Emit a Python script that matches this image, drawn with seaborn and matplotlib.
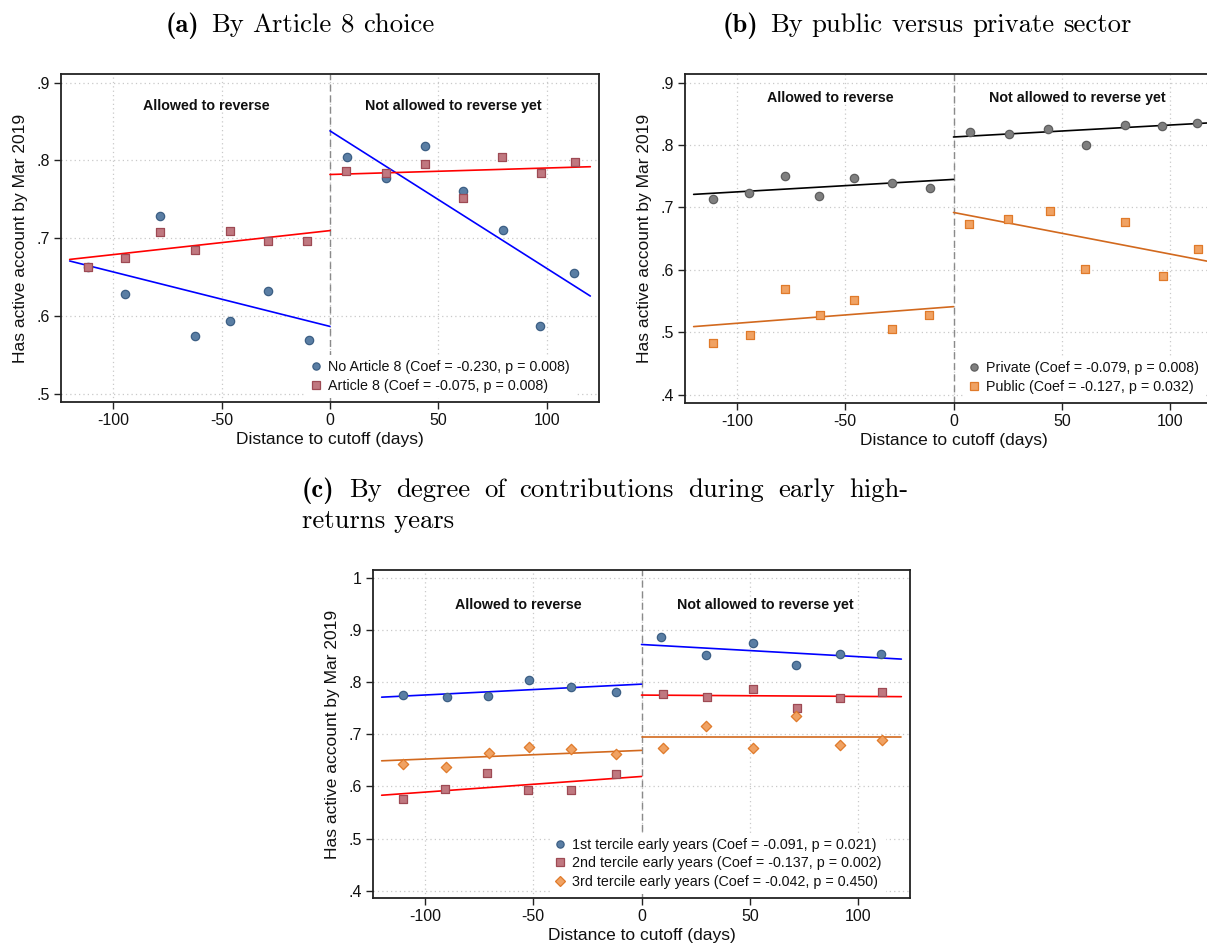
import matplotlib
matplotlib.use("Agg")
import matplotlib.pyplot as plt
from matplotlib.lines import Line2D
import seaborn as sns

# ---------------------------------------------------------------------------
# Data: binned means of "has active account by Mar 2019" by distance to cutoff
# and local linear fits on each side of the cutoff (values at -120/0 and 0/120)
# ---------------------------------------------------------------------------
x_ticks = [-100, -50, 0, 50, 100]
x_tick_labels = ["-100", "-50", "0", "50", "100"]

# (a) By Article 8 choice
a_no_art8_days = [-111.5, -94.5, -78.2, -62.2, -46.0, -28.6, -9.6,
                  8.0, 25.8, 43.9, 61.3, 79.8, 96.6, 112.4]
a_no_art8_vals = [0.663, 0.629, 0.729, 0.575, 0.594, 0.632, 0.569,
                  0.805, 0.778, 0.819, 0.761, 0.711, 0.587, 0.655]
a_no_art8_fit_left = [0.671, 0.587]
a_no_art8_fit_right = [0.838, 0.626]
a_art8_days = [-111.5, -94.3, -78.3, -62.3, -46.0, -28.4, -10.8,
               7.5, 25.6, 44.0, 61.5, 79.4, 97.2, 112.8]
a_art8_vals = [0.663, 0.675, 0.708, 0.685, 0.710, 0.697, 0.697,
               0.787, 0.784, 0.795, 0.752, 0.805, 0.784, 0.798]
a_art8_fit_left = [0.673, 0.710]
a_art8_fit_right = [0.782, 0.792]
a_labels = ["No Article 8 (Coef = -0.230, p = 0.008)",
            "Article 8 (Coef = -0.075, p = 0.008)"]
a_yticks = [0.5, 0.6, 0.7, 0.8, 0.9]
a_ytick_labels = [".5", ".6", ".7", ".8", ".9"]

# (b) By public versus private sector
b_private_days = [-111.1, -94.3, -78.0, -61.9, -46.1, -28.4, -10.7,
                  7.6, 25.6, 43.5, 61.2, 79.0, 96.5, 112.3]
b_private_vals = [0.714, 0.724, 0.750, 0.719, 0.747, 0.740, 0.732,
                  0.821, 0.817, 0.826, 0.800, 0.833, 0.830, 0.835]
b_private_fit_left = [0.721, 0.745]
b_private_fit_right = [0.813, 0.836]
b_public_days = [-111.1, -94.1, -77.8, -61.7, -45.8, -28.2, -11.3,
                 7.3, 25.1, 44.5, 60.5, 79.0, 96.7, 112.8]
b_public_vals = [0.483, 0.496, 0.570, 0.527, 0.551, 0.505, 0.527,
                 0.674, 0.681, 0.695, 0.601, 0.676, 0.590, 0.634]
b_public_fit_left = [0.509, 0.541]
b_public_fit_right = [0.692, 0.612]
b_labels = ["Private (Coef = -0.079, p = 0.008)",
            "Public (Coef = -0.127, p = 0.032)"]
b_yticks = [0.4, 0.5, 0.6, 0.7, 0.8, 0.9]
b_ytick_labels = [".4", ".5", ".6", ".7", ".8", ".9"]

# (c) By degree of contributions during early high-returns years
c_t1_days = [-110.3, -89.6, -70.8, -51.9, -32.4, -12.0,
             9.0, 29.9, 51.5, 71.5, 91.9, 110.6]
c_t1_vals = [0.776, 0.771, 0.774, 0.803, 0.791, 0.781,
             0.886, 0.852, 0.874, 0.833, 0.854, 0.853]
c_t1_fit_left = [0.771, 0.796]
c_t1_fit_right = [0.872, 0.844]
c_t2_days = [-110.1, -90.6, -71.2, -52.2, -32.4, -12.0,
             9.9, 30.3, 51.5, 71.7, 91.7, 111.0]
c_t2_vals = [0.575, 0.595, 0.625, 0.594, 0.594, 0.624,
             0.778, 0.771, 0.786, 0.751, 0.769, 0.780]
c_t2_fit_left = [0.583, 0.619]
c_t2_fit_right = [0.775, 0.772]
c_t3_days = [-110.3, -90.3, -70.6, -52.0, -32.6, -11.7,
             9.7, 29.9, 51.3, 71.3, 91.7, 111.0]
c_t3_vals = [0.642, 0.637, 0.664, 0.676, 0.672, 0.663,
             0.674, 0.716, 0.674, 0.735, 0.679, 0.689]
c_t3_fit_left = [0.649, 0.669]
c_t3_fit_right = [0.695, 0.695]
c_labels = ["1st tercile early years (Coef = -0.091, p = 0.021)",
            "2nd tercile early years (Coef = -0.137, p = 0.002)",
            "3rd tercile early years (Coef = -0.042, p = 0.450)"]
c_yticks = [0.4, 0.5, 0.6, 0.7, 0.8, 0.9, 1.0]
c_ytick_labels = [".4", ".5", ".6", ".7", ".8", ".9", "1"]

fit_left_x = [-120, 0]
fit_right_x = [0, 120]

# ---------------------------------------------------------------------------
# Styling
# ---------------------------------------------------------------------------
sns.set_theme(style="white")
plt.rcParams["font.family"] = ["Liberation Sans", "DejaVu Sans"]
plt.rcParams["axes.unicode_minus"] = False

BLUE_M = dict(face="#5a7ea4", edge="#3c5f84", marker="o", s=36)
RED_M = dict(face="#c07880", edge="#9e4a54", marker="s", s=34)
GREY_M = dict(face="#7f7f7f", edge="#5e5e5e", marker="o", s=36)
ORANGE_M = dict(face="#f0a263", edge="#e07a2a", marker="s", s=34)
ORANGE_D = dict(face="#f0a263", edge="#e07a2a", marker="D", s=28)

W, H = 1207, 943
fig = plt.figure(figsize=(W / 100, H / 100), dpi=100)
fig.patch.set_facecolor("white")


def px_axes(left, top, right, bottom):
    return fig.add_axes([left / W, 1 - bottom / H, (right - left) / W,
                         (bottom - top) / H])


def draw_panel(ax, series, ylim, yticks, ytick_labels, region_y,
               legend_anchor):
    ax.set_xlim(-124, 124)
    ax.set_ylim(*ylim)
    ax.grid(True, linestyle=(0, (1, 2.5)), color="#c9c9c9", lw=0.9)
    ax.set_axisbelow(True)
    ax.axvline(0, color="#8a8a8a", lw=1.0, ls=(0, (5, 3)), zorder=1.5)

    handles = []
    for days, vals, fl, fr, line_color, mk, label in series:
        sns.lineplot(x=fit_left_x, y=fl, color=line_color, lw=1.2,
                     ax=ax, zorder=2, legend=False)
        sns.lineplot(x=fit_right_x, y=fr, color=line_color, lw=1.2,
                     ax=ax, zorder=2, legend=False)
        sns.scatterplot(x=days, y=vals, marker=mk["marker"], s=mk["s"],
                        color=mk["face"], edgecolor=mk["edge"], linewidth=0.9,
                        ax=ax, zorder=3, legend=False)
        handles.append(Line2D([], [], ls="", marker=mk["marker"],
                              markersize=5.2 if mk["marker"] != "D" else 4.6,
                              markerfacecolor=mk["face"],
                              markeredgecolor=mk["edge"], markeredgewidth=0.9,
                              label=label))

    ax.set_xticks(x_ticks)
    ax.set_xticklabels(x_tick_labels)
    ax.set_yticks(yticks)
    ax.set_yticklabels(ytick_labels)
    ax.tick_params(axis="both", which="major", direction="out", length=5,
                   width=1.0, color="#222222", labelsize=11.5, pad=3,
                   bottom=True, left=True, labelcolor="#111111")
    for sp in ax.spines.values():
        sp.set_color("#222222")
        sp.set_linewidth(1.3)
    ax.set_xlabel("Distance to cutoff (days)", fontsize=12.5, labelpad=3,
                  color="#111111")
    ax.set_ylabel("Has active account by Mar 2019", fontsize=12.5,
                  labelpad=6, color="#111111")

    ax.text(-57, region_y, "Allowed to reverse", ha="center", va="center",
            fontsize=10.3, fontweight="bold", color="#111111")
    ax.text(57, region_y, "Not allowed to reverse yet", ha="center",
            va="center", fontsize=10.3, fontweight="bold", color="#111111")

    leg = ax.legend(handles=handles, loc="lower left",
                    bbox_to_anchor=legend_anchor, frameon=True,
                    fontsize=10.3, handlelength=0.7, handletextpad=0.5,
                    labelspacing=0.32, borderpad=0.35, borderaxespad=0.0,
                    fancybox=False)
    leg.get_frame().set_facecolor("white")
    leg.get_frame().set_edgecolor("none")
    leg.get_frame().set_alpha(1.0)
    leg.set_zorder(5)
    for t in leg.get_texts():
        t.set_color("#111111")


# Panel (a)
ax_a = px_axes(61, 74, 599, 402)
draw_panel(ax_a,
           [(a_no_art8_days, a_no_art8_vals, a_no_art8_fit_left,
             a_no_art8_fit_right, "#0000ff", BLUE_M, a_labels[0]),
            (a_art8_days, a_art8_vals, a_art8_fit_left, a_art8_fit_right,
             "#ff0000", RED_M, a_labels[1])],
           (0.490, 0.911), a_yticks, a_ytick_labels, 0.870,
           (0.455, 0.012))

# Panel (b) (its right edge runs past the figure border)
ax_b = px_axes(685, 74, 1222, 403)
draw_panel(ax_b,
           [(b_private_days, b_private_vals, b_private_fit_left,
             b_private_fit_right, "#000000", GREY_M, b_labels[0]),
            (b_public_days, b_public_vals, b_public_fit_left,
             b_public_fit_right, "#d2691e", ORANGE_M, b_labels[1])],
           (0.3865, 0.914), b_yticks, b_ytick_labels, 0.875,
           (0.52, 0.012))

# Panel (c)
ax_c = px_axes(373, 570, 910, 898)
draw_panel(ax_c,
           [(c_t1_days, c_t1_vals, c_t1_fit_left, c_t1_fit_right,
             "#0000ff", BLUE_M, c_labels[0]),
            (c_t2_days, c_t2_vals, c_t2_fit_left, c_t2_fit_right,
             "#ff0000", RED_M, c_labels[1]),
            (c_t3_days, c_t3_vals, c_t3_fit_left, c_t3_fit_right,
             "#d2691e", ORANGE_D, c_labels[2])],
           (0.386, 1.0148), c_yticks, c_ytick_labels, 0.948,
           (0.329, 0.012))

# ---------------------------------------------------------------------------
# Sub-captions in a Computer Modern face: bold tag followed by regular text
# ---------------------------------------------------------------------------
renderer = fig.canvas.get_renderer()
CAP_SIZE = 19.2


def text_width(s, family):
    t = fig.text(0, 0, s, family=family, fontsize=CAP_SIZE)
    w = t.get_window_extent(renderer).width
    t.remove()
    return w


def caption(x_px, y_px, tag, words, justify_to=None):
    space = text_width("a b", "cmr10") - text_width("ab", "cmr10")
    items = [(tag, "cmb10")] + [(w, "cmr10") for w in words]
    widths = [text_width(s, f) for s, f in items]
    gap = space
    if justify_to is not None:
        gap = (justify_to - x_px - sum(widths)) / (len(items) - 1)
    x = x_px
    for i, ((s, f), w) in enumerate(zip(items, widths)):
        fig.text(x / W, 1 - y_px / H, s, family=f, fontsize=CAP_SIZE,
                 ha="left", va="baseline", color="black")
        x += w + (gap * 1.25 if i == 0 and justify_to is None else gap)


caption(166, 32, "(a)", ["By", "Article", "8", "choice"])
caption(723, 32, "(b)", ["By", "public", "versus", "private", "sector"])
caption(302, 497, "(c)", ["By", "degree", "of", "contributions", "during",
                          "early", "high-"], justify_to=908)
fig.text(302 / W, 1 - 528 / H, "returns years", family="cmr10",
         fontsize=CAP_SIZE, ha="left", va="baseline", color="black")

fig.savefig("out.png", dpi=100, facecolor="white")
